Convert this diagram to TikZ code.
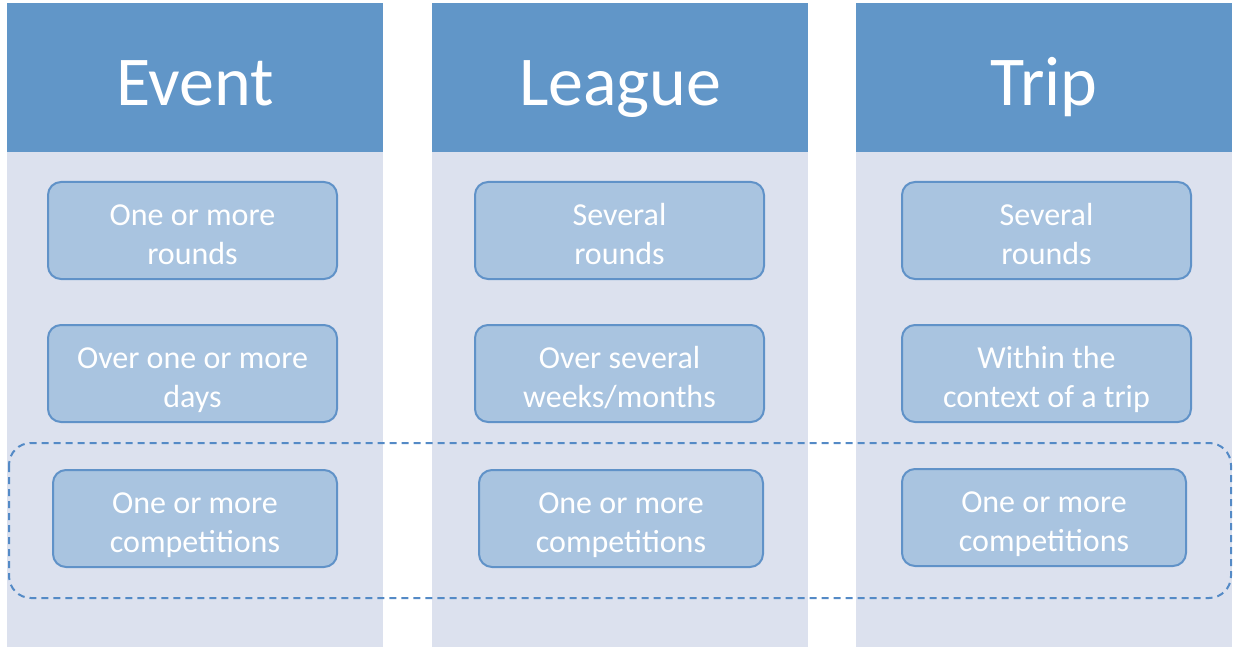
\documentclass[tikz,border=0pt]{standalone}
\usepackage{fontspec}
\setmainfont{Carlito}
\usepackage{xcolor}
\definecolor{headblue}{RGB}{97,150,200}
\definecolor{bodyblue}{RGB}{220,225,238}
\definecolor{itemblue}{RGB}{169,196,224}
\definecolor{edgeblue}{RGB}{96,146,200}
\definecolor{dashblue}{RGB}{84,138,198}
\newcommand{\twolines}[2]{\rule{0pt}{38pt}#1\\#2\rule[-10pt]{0pt}{10pt}}
\tikzstyle{header} = [rectangle, anchor=north west, fill=headblue, text=white, minimum width=376pt, minimum height=149pt, inner sep=0, text height=55pt, text depth=0pt, font=\fontsize{70}{72}\selectfont]
\tikzstyle{colbody} = [rectangle, anchor=north west, fill=bodyblue, minimum width=376pt, minimum height=495pt, inner sep=0]
\tikzstyle{item} = [rectangle, draw=edgeblue, line width=2pt, rounded corners=13pt, fill=itemblue, text=white, align=center, minimum width=289pt, minimum height=97pt, inner sep=0, font=\fontsize{32}{39}\selectfont]
\tikzstyle{itemn} = [item, minimum width=284pt]
\tikzstyle{group} = [draw=dashblue, dash pattern=on 7pt off 5pt, line width=2pt, rounded corners=22pt]

\begin{document}
\begin{tikzpicture}[x=1pt, y=-1pt]
\useasboundingbox (0,0) rectangle (1233,647);

% columns
\node [colbody] (Bev) at (7,152) {};
\node [colbody] (Ble) at (432,152) {};
\node [colbody] (Btr) at (856,152) {};
\node [header] (Hev) at (7,3) {Event};
\node [header] (Hle) at (432,3) {League};
\node [header] (Htr) at (856,3) {Trip};

% event
\node [item] (E1) at (192.5,230.5) {\twolines{One or more}{rounds}};
\node [item] (E2) at (192.5,373.5) {\twolines{Over one or more}{days}};
\node [itemn] (E3) at (195,518.5) {\twolines{One or more}{competitions}};

% league
\node [item] (L1) at (619.5,230.5) {\twolines{Several}{rounds}};
\node [item] (L2) at (619.5,373.5) {\twolines{Over several}{weeks/months}};
\node [itemn] (L3) at (621,518.5) {\twolines{One or more}{competitions}};

% trip
\node [item] (T1) at (1046.5,230.5) {\twolines{Several}{rounds}};
\node [item] (T2) at (1046.5,373.5) {\twolines{Within the}{context of a trip}};
\node [itemn] (T3) at (1044,517.5) {\twolines{One or more}{competitions}};

\draw [group] (9,443) rectangle (1231,598);

\end{tikzpicture}
\end{document}
